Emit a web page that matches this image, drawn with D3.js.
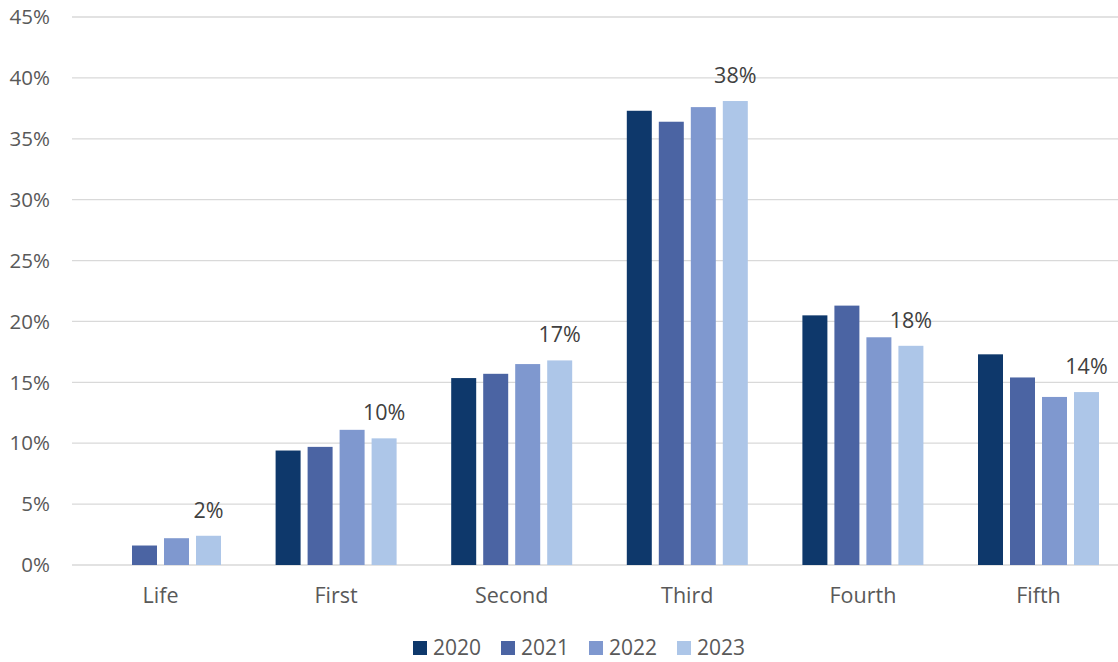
<!DOCTYPE html>
<html><head><meta charset="utf-8">
<script src="https://cdn.jsdelivr.net/npm/d3@7"></script>
<style>body{margin:0;background:#fff;}svg{display:block;font-family:"Open Sans",sans-serif;}</style>
</head><body><svg id="c" width="1118" height="662"></svg>
<script>
const categories = ["Life","First","Second","Third","Fourth","Fifth"];
const years = ["2020","2021","2022","2023"];
const v2020 = [0, 9.4, 15.35, 37.3, 20.5, 17.3];
const v2021 = [1.6, 9.7, 15.7, 36.4, 21.3, 15.4];
const v2022 = [2.2, 11.1, 16.5, 37.6, 18.7, 13.8];
const v2023 = [2.4, 10.4, 16.8, 38.1, 18.0, 14.2];
const labels2023 = ["2%","10%","17%","38%","18%","14%"];
const yTicks = [0,5,10,15,20,25,30,35,40,45];
const colors = ["#0e386b","#4b64a3","#7f98cf","#adc6e8"];
const series = [v2020, v2021, v2022, v2023];

const svg = d3.select("#c");
const y = d3.scaleLinear().domain([0,45]).range([565,17]);
const x0 = d3.scaleBand().domain(categories).range([72.7,1126.3]);
const x1 = d3.scaleBand().domain(years).range([x0.bandwidth()/2-60.5, x0.bandwidth()/2+60.5]).paddingInner(0.219);
const textCol = "#595959";

// gridlines
svg.append("g").selectAll("line").data(yTicks).join("line")
  .attr("x1",72).attr("x2",1118).attr("y1",d=>y(d)).attr("y2",d=>y(d))
  .attr("stroke","#d9d9d9").attr("stroke-width",1.3);
// y labels
svg.append("g").selectAll("text").data(yTicks).join("text")
  .attr("x",50).attr("y",d=>y(d)).attr("dy","0.35em").attr("text-anchor","end")
  .attr("font-size",20.5).attr("fill",textCol).text(d=>d+"%");

// bars
categories.forEach((c,i)=>{
  const g = svg.append("g").attr("transform",`translate(${x0(c)},0)`);
  years.forEach((yr,j)=>{
    const v = series[j][i];
    if(v>0) g.append("rect").attr("x",x1(yr)).attr("width",x1.bandwidth())
      .attr("y",y(v)).attr("height",y(0)-y(v)).attr("fill",colors[j]);
  });
  g.append("text").attr("x",x1("2023")+x1.bandwidth()/2).attr("y",y(v2023[i])-18)
    .attr("text-anchor","middle").attr("font-size",21.5).attr("fill","#404040").text(labels2023[i]);
  svg.append("text").attr("x",x0(c)+x0.bandwidth()/2).attr("y",603)
    .attr("text-anchor","middle").attr("font-size",21.5).attr("fill",textCol).text(c);
});

// legend
const legX = [413, 501, 589, 677];
years.forEach((yr,j)=>{
  svg.append("rect").attr("x",legX[j]).attr("y",641).attr("width",14).attr("height",14).attr("fill",colors[j]);
  svg.append("text").attr("x",legX[j]+20).attr("y",648).attr("dy","0.35em")
    .attr("font-size",21).attr("fill",textCol).text(yr);
});
</script></body></html>
